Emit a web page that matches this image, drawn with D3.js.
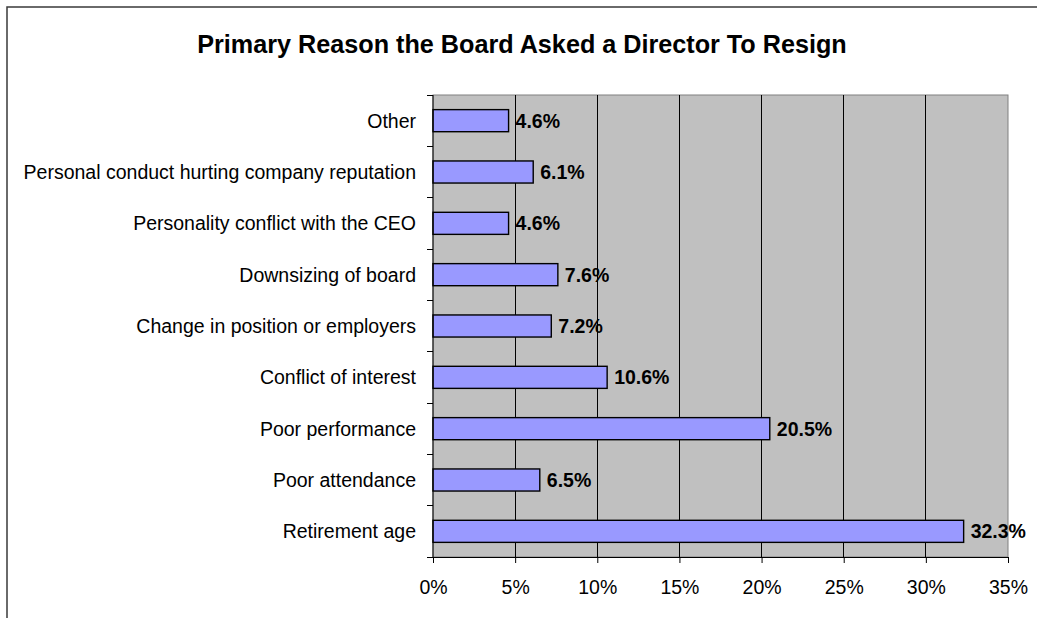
<!DOCTYPE html>
<html>
<head>
<meta charset="utf-8">
<script src="https://cdn.jsdelivr.net/npm/d3@7"></script>
<style>
  body { margin: 0; background: #fff; }
  svg { display: block; font-family: "Liberation Sans", Arial, sans-serif; }
</style>
</head>
<body>
<svg id="chart" width="1037" height="618"></svg>
<script>
// categories listed top to bottom
const categories = [
  'Other',
  'Personal conduct hurting company reputation',
  'Personality conflict with the CEO',
  'Downsizing of board',
  'Change in position or employers',
  'Conflict of interest',
  'Poor performance',
  'Poor attendance',
  'Retirement age'
];
const values = [4.6, 6.1, 4.6, 7.6, 7.2, 10.6, 20.5, 6.5, 32.3];
const xTicks = [0, 5, 10, 15, 20, 25, 30, 35];
const title = 'Primary Reason the Board Asked a Director To Resign';

const svg = d3.select('#chart');
const margin = { top: 95, left: 433, right: 1037 - 1008, bottom: 618 - 557 };
const width = 1037 - margin.left - margin.right;
const height = 618 - margin.top - margin.bottom;

// outer chart border (right/bottom edges fall outside the window)
svg.append('rect')
  .attr('x', 7).attr('y', 7)
  .attr('width', 1100).attr('height', 700)
  .attr('fill', 'none')
  .attr('stroke', '#3a3a3a')
  .attr('stroke-width', 1.5);

svg.append('text')
  .attr('x', 522).attr('y', 53)
  .attr('text-anchor', 'middle')
  .attr('font-size', 25.2)
  .attr('font-weight', 'bold')
  .text(title);

const x = d3.scaleLinear().domain([0, 35]).range([0, width]);
const y = d3.scaleBand().domain(categories).range([0, height]).paddingInner(0.57).paddingOuter(0.285);

const g = svg.append('g').attr('transform', `translate(${margin.left},${margin.top})`);

g.append('rect')
  .attr('width', width).attr('height', height)
  .attr('fill', '#c0c0c0')
  .attr('stroke', '#808080')
  .attr('stroke-width', 1);

// vertical gridlines
g.selectAll('.grid')
  .data(xTicks.slice(1, -1))
  .join('line')
  .attr('x1', d => x(d)).attr('x2', d => x(d))
  .attr('y1', 0).attr('y2', height)
  .attr('stroke', '#000')
  .attr('stroke-width', 1)
  .attr('shape-rendering', 'crispEdges');

g.selectAll('.bar')
  .data(values)
  .join('rect')
  .attr('x', 0)
  .attr('y', (d, i) => y(categories[i]))
  .attr('width', d => x(d))
  .attr('height', y.bandwidth())
  .attr('fill', '#9999ff')
  .attr('stroke', '#000')
  .attr('stroke-width', 1.4);

g.selectAll('.val')
  .data(values)
  .join('text')
  .attr('x', d => x(d) + 7)
  .attr('y', (d, i) => y(categories[i]) + y.bandwidth() / 2)
  .attr('dy', '0.36em')
  .attr('font-size', 19.5)
  .attr('font-weight', 'bold')
  .text(d => d.toFixed(1) + '%');

// x axis
const xAxis = g.append('g')
  .attr('transform', `translate(0,${height})`)
  .call(d3.axisBottom(x).tickValues(xTicks).tickFormat(d => d + '%').tickSize(6).tickSizeOuter(0));
xAxis.select('.domain').attr('stroke', '#000');
xAxis.selectAll('text')
  .attr('font-size', 19.5)
  .attr('font-family', 'inherit')
  .attr('y', 30)
  .attr('dy', '0.36em')
  .attr('fill', '#000');

// y axis: ticks at band boundaries
const bounds = d3.range(categories.length + 1).map(i => i * height / categories.length);
g.append('line')
  .attr('x1', 0).attr('x2', 0).attr('y1', 0).attr('y2', height)
  .attr('stroke', '#000');
g.selectAll('.ytick')
  .data(bounds)
  .join('line')
  .attr('x1', -6).attr('x2', 0)
  .attr('y1', d => d).attr('y2', d => d)
  .attr('stroke', '#000')
  .attr('shape-rendering', 'crispEdges');
g.selectAll('.ylab')
  .data(categories)
  .join('text')
  .attr('x', -17)
  .attr('y', d => y(d) + y.bandwidth() / 2)
  .attr('dy', '0.36em')
  .attr('text-anchor', 'end')
  .attr('font-size', 19.5)
  .text(d => d);
</script>
</body>
</html>
